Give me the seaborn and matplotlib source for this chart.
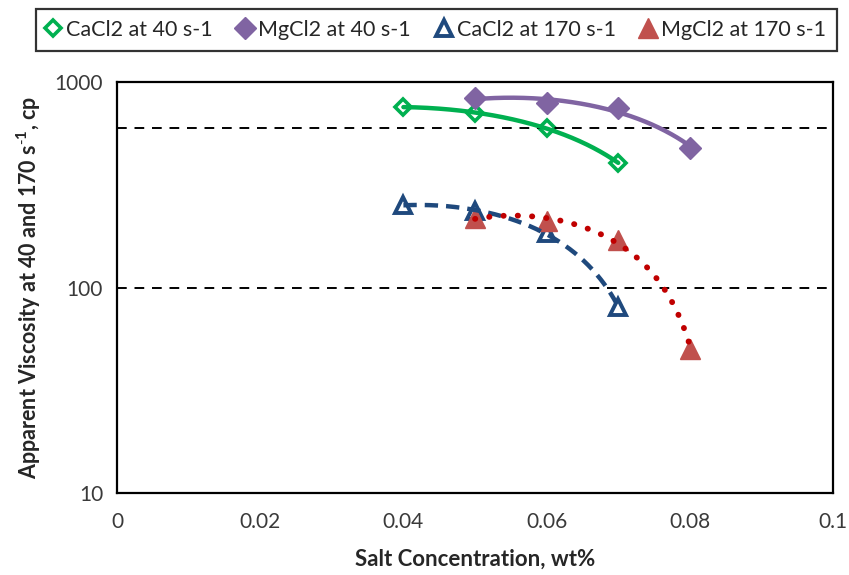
import numpy as np
import pandas as pd
import matplotlib
matplotlib.use("Agg")
import matplotlib.pyplot as plt
import seaborn as sns
from matplotlib.ticker import LogLocator, FixedLocator, NullFormatter

# Apparent viscosity (cp) versus salt concentration (wt%)
conc_ca = [0.04, 0.05, 0.06, 0.07]
conc_mg = [0.05, 0.06, 0.07, 0.08]
cacl2_40 = [756, 707, 597, 403]
mgcl2_40 = [836, 790, 747, 477]
cacl2_170 = [252, 236, 184, 80]
mgcl2_170 = [218, 211, 170, 50]
reference_levels = [600, 100]

x_ticks = [0, 0.02, 0.04, 0.06, 0.08, 0.1]
x_tick_labels = ["0", "0.02", "0.04", "0.06", "0.08", "0.1"]
y_ticks = [10, 100, 1000]
y_tick_labels = ["10", "100", "1000"]

sns.set_theme(style="white")
plt.rcParams["font.family"] = ["Lato", "DejaVu Sans"]
plt.rcParams["mathtext.fontset"] = "custom"
plt.rcParams["mathtext.rm"] = "Lato"
plt.rcParams["mathtext.bf"] = "Lato:bold"


def quad_trend(xs, ys, n=200):
    """Second-order polynomial trendline over the span of the data."""
    coef = np.polyfit(xs, ys, 2)
    gx = np.linspace(min(xs), max(xs), n)
    return pd.DataFrame({"x": gx, "y": np.polyval(coef, gx)})


fig = plt.figure(figsize=(8.49, 5.75), dpi=100)
ax = fig.add_axes([0.1378, 0.1426, 0.8434, 0.7148])

series = [
    # label, x, y, trend colour, trend style, marker, size, face, edge, edge width
    ("CaCl2 at 40 s-1", conc_ca, cacl2_40, "#00B050", "-", "D", 8.5, "white", "#00B050", 2.6),
    ("MgCl2 at 40 s-1", conc_mg, mgcl2_40, "#8064A2", "-", "D", 11, "#8064A2", "#8064A2", 1.0),
    ("CaCl2 at 170 s-1", conc_ca, cacl2_170, "#1F497D", (0, (3.0, 1.8)), "^", 11.5, "white", "#1F497D", 2.8),
    ("MgCl2 at 170 s-1", conc_mg, mgcl2_170, "#C00000", (0, (0.05, 2.4)), "^", 14, "#C0504D", "#C0504D", 1.0),
]

# horizontal reference levels
for lvl in reference_levels:
    ax.axhline(lvl, color="black", lw=1.4, ls=(0, (5, 4)), zorder=2.5)

handles = []
for label, xs, ys, color, ls, marker, ms, mfc, mec, mew in series:
    pts = pd.DataFrame({"x": xs, "y": ys})
    h, = ax.plot(pts["x"], pts["y"], ls="none", marker=marker, ms=ms,
                 mfc=mfc, mec=mec, mew=mew, zorder=2, label=label)
    handles.append(h)
    dotted = isinstance(ls, tuple) and ls[1][0] < 1
    sns.lineplot(data=quad_trend(xs, ys), x="x", y="y", ax=ax, color=color,
                 lw=4.2 if dotted else 3.2, linestyle=ls, sort=False,
                 estimator=None, zorder=3, legend=False,
                 dash_capstyle="round" if dotted else "butt")

ax.set_yscale("log")
ax.set_xlim(0, 0.1)
ax.set_ylim(10, 1000)
ax.xaxis.set_major_locator(FixedLocator(x_ticks))
ax.set_xticklabels(x_tick_labels)
ax.yaxis.set_major_locator(FixedLocator(y_ticks))
ax.set_yticklabels(y_tick_labels)
ax.yaxis.set_minor_locator(LogLocator(base=10, subs=np.arange(2, 10)))
ax.yaxis.set_minor_formatter(NullFormatter())

ax.tick_params(axis="both", which="both", direction="in", color="black",
               labelsize=15, labelcolor="#3a3a3a")
ax.tick_params(axis="x", which="major", length=5, width=1.2, pad=14)
ax.tick_params(axis="y", which="major", length=5, width=1.2, pad=10)
ax.tick_params(axis="y", which="minor", length=5, width=1.2)
ax.tick_params(axis="x", which="minor", length=0)

for sp in ax.spines.values():
    sp.set_visible(True)
    sp.set_color("black")
    sp.set_linewidth(1.6)

ax.set_xlabel("Salt Concentration, wt%", fontsize=16, fontweight="bold", labelpad=12)
ax.set_ylabel("Apparent Viscosity at 40 and 170 s$^{\\mathbf{\\text{-}1}}$, cp", fontsize=15.5,
              fontweight="bold", labelpad=8)

if ax.get_legend() is not None:
    ax.get_legend().remove()

leg = fig.legend(handles=handles, loc="upper left", ncol=4,
                 bbox_to_anchor=(0.042, 0.984, 0.944, 0.0), mode="expand",
                 frameon=True, fancybox=False, fontsize=15.5, handlelength=0.6,
                 handletextpad=0.3, columnspacing=0.6, borderpad=0.5,
                 borderaxespad=0)
leg.get_frame().set_edgecolor("black")
leg.get_frame().set_linewidth(1.6)

fig.savefig("out.png", dpi=100)
